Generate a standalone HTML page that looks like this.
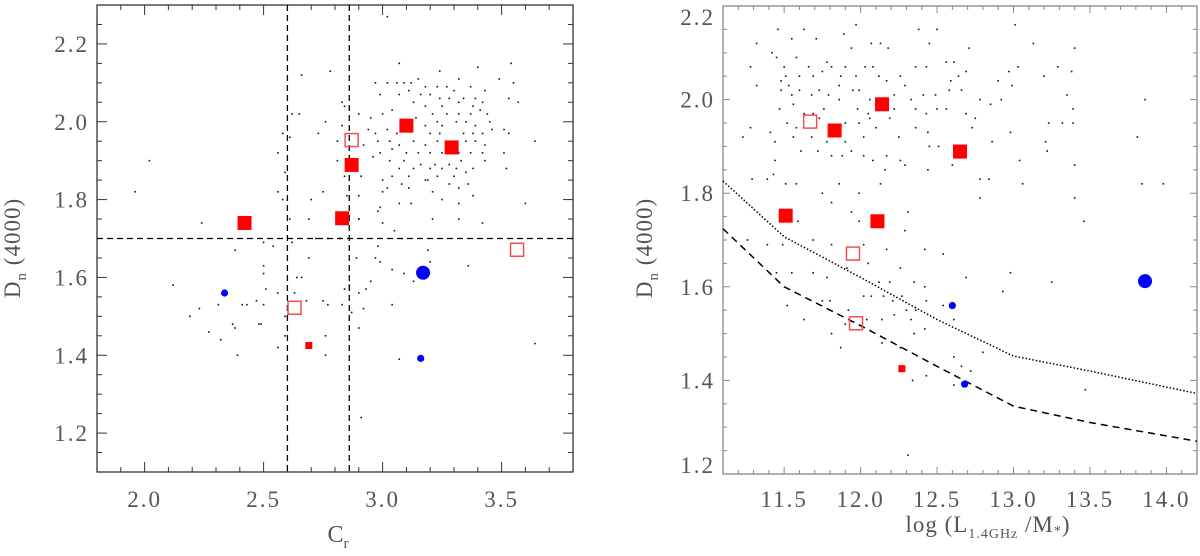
<!DOCTYPE html>
<html><head><meta charset="utf-8"><style>
html,body{margin:0;padding:0;background:#fff;}
svg text{font-family:"Liberation Serif",serif;fill:#555;}
</style></head><body>
<svg id="chart" width="1200" height="551" viewBox="0 0 1200 551" xmlns="http://www.w3.org/2000/svg">
<g id="left"></g>
<g id="right"></g>
</svg>
<script>
// ---- shared galaxy sample (Dn4000 values) ----
const bigFilledY=[1.99,1.934,1.889,1.752,1.74];
const smallFilledY=[1.425];
const openY=[1.953,1.522,1.671];
const bigBlueY=[1.612];
const smallBlueY=[1.56,1.392];
// left panel (C_r)
const bigFilledCr=[3.10,3.29,2.87,2.83,2.42];
const smallFilledCr=[2.69];
const openCr=[2.87,2.63,3.565];
const bigBlueCr=[3.17];
const smallBlueCr=[2.336,3.16];
// right panel (log L/M)
const bigFilledL=[12.14,11.83,12.65,11.51,12.11];
const smallFilledL=[12.27];
const openL=[11.67,11.97,11.95];
const bigBlueL=[13.86];
const smallBlueL=[12.60,12.68];
// threshold lines
const cutCr=[2.60,2.86];
const cutDn=[1.70];
const curveX=[11.1,11.5,12.0,12.5,13.0,13.5,14.2];
const dottedY=[1.826,1.707,1.62,1.53,1.452,1.42,1.372];
const dashedY=[1.724,1.60,1.517,1.43,1.345,1.31,1.27];
// tick labels
const leftXTicks=["2.0","2.5","3.0","3.5"];
const leftYTicks=["1.2","1.4","1.6","1.8","2.0","2.2"];
const rightXTicks=["11.5","12.0","12.5","13.0","13.5","14.0"];
const rightYTicks=["1.2","1.4","1.6","1.8","2.0","2.2"];
// background sample dots [x,y]
const leftDots=[[3.02,2.27],[3.07,2.15],[2.78,2.13],[3.54,2.15],[3.40,2.14],[3.24,2.13],[3.49,2.11],[3.55,2.10],[3.32,2.11],[2.97,2.10],[3.02,2.10],[3.06,2.10],[3.09,2.10],[3.12,2.10],[3.15,2.11],[3.18,2.09],[3.23,2.09],[3.27,2.09],[3.30,2.08],[3.37,2.09],[3.43,2.08],[2.99,2.07],[3.07,2.07],[3.11,2.08],[3.16,2.07],[3.20,2.07],[3.24,2.06],[3.28,2.06],[3.34,2.06],[3.39,2.06],[3.53,2.06],[3.57,2.05],[3.13,2.05],[3.18,2.04],[3.25,2.04],[3.32,2.05],[3.38,2.04],[3.42,2.05],[2.90,2.02],[2.95,2.01],[3.00,2.02],[3.04,2.03],[3.21,2.02],[3.27,2.02],[3.32,2.02],[3.37,2.02],[3.41,2.03],[3.44,2.02],[3.14,2.01],[3.18,1.99],[3.23,2.00],[3.25,1.99],[3.31,2.00],[3.35,2.00],[3.39,1.99],[3.45,2.00],[2.94,1.98],[2.97,1.97],[3.02,1.98],[3.06,1.97],[3.20,1.97],[3.24,1.97],[3.34,1.97],[3.38,1.97],[3.42,1.97],[3.46,1.98],[3.51,1.98],[3.53,1.97],[2.98,1.95],[3.03,1.95],[3.07,1.94],[3.13,1.95],[3.18,1.94],[3.23,1.95],[3.35,1.95],[3.39,1.95],[3.43,1.94],[3.64,1.95],[2.92,1.94],[2.99,1.92],[3.04,1.93],[3.10,1.92],[3.15,1.92],[3.20,1.92],[3.25,1.92],[3.32,1.92],[3.37,1.92],[3.42,1.92],[3.51,1.92],[2.96,1.91],[3.03,1.90],[3.09,1.90],[3.16,1.89],[3.22,1.89],[3.28,1.89],[3.33,1.90],[3.43,1.90],[3.07,1.88],[3.13,1.88],[3.20,1.88],[3.25,1.88],[3.31,1.88],[3.38,1.88],[3.52,1.88],[2.91,1.86],[3.04,1.86],[3.11,1.86],[3.18,1.85],[3.23,1.86],[3.30,1.86],[3.35,1.87],[3.00,1.85],[3.08,1.84],[3.19,1.85],[3.28,1.84],[3.36,1.84],[3.02,1.83],[3.11,1.83],[3.32,1.83],[3.21,1.82],[3.38,1.81],[3.00,1.82],[3.07,1.79],[3.12,1.79],[3.25,1.80],[3.32,1.79],[3.60,1.79],[2.98,1.77],[2.99,1.78],[3.21,1.75],[3.32,1.75],[3.42,1.74],[3.00,1.74],[2.90,1.75],[3.05,1.72],[3.08,1.70],[3.19,1.67],[2.98,1.68],[2.97,1.65],[2.99,1.64],[3.04,1.62],[3.09,1.61],[3.13,1.59],[3.20,1.64],[3.36,1.63],[2.95,1.59],[2.93,1.57],[3.04,1.53],[3.07,1.39],[2.91,1.24],[3.64,1.43],[2.02,1.90],[1.96,1.82],[2.24,1.74],[2.12,1.58],[2.19,1.50],[2.23,1.52],[2.27,1.46],[2.32,1.44],[2.31,1.53],[2.37,1.48],[2.38,1.47],[2.39,1.40],[2.41,1.53],[2.43,1.53],[2.47,1.54],[2.50,1.53],[2.48,1.48],[2.49,1.48],[2.50,1.63],[2.50,1.61],[2.51,1.57],[2.56,1.56],[2.56,1.42],[2.59,1.45],[2.59,1.50],[2.63,1.56],[2.64,1.60],[2.66,1.60],[2.68,1.54],[2.69,1.65],[2.76,1.45],[2.76,1.40],[2.75,1.54],[2.77,1.53],[2.83,1.53],[2.84,1.57],[2.86,1.58],[2.87,1.51],[2.90,1.47],[2.92,1.52],[2.90,1.56],[2.89,1.65],[2.62,1.69],[2.50,1.69],[2.54,1.68],[2.38,1.67],[2.61,1.75],[2.70,1.80],[2.75,1.82],[2.69,1.75],[2.72,1.70],[2.77,1.70],[2.85,1.74],[2.82,1.70],[2.90,1.75],[2.85,1.81],[2.90,1.81],[2.58,1.80],[2.56,1.82],[2.56,1.92],[2.59,1.87],[2.58,1.97],[2.61,1.96],[2.62,2.02],[2.65,2.02],[2.66,2.12],[2.76,2.00],[2.73,1.97],[2.81,1.95],[2.83,2.05],[2.84,2.04],[2.81,1.90],[2.84,1.86],[2.83,1.99]];
const rightDots=[[11.46,2.15],[11.63,2.15],[11.71,2.13],[11.32,2.12],[11.55,2.13],[11.97,2.16],[11.89,2.14],[11.94,2.11],[12.07,2.12],[12.13,2.12],[12.18,2.11],[12.38,2.15],[12.50,2.15],[12.45,2.12],[12.71,2.11],[13.01,2.16],[13.13,2.12],[13.40,2.11],[11.28,2.07],[11.42,2.10],[11.45,2.09],[11.58,2.09],[11.50,2.07],[11.51,2.05],[11.48,2.04],[11.53,2.03],[11.60,2.05],[11.66,2.07],[11.69,2.05],[11.75,2.06],[11.78,2.08],[11.81,2.07],[11.87,2.05],[11.90,2.07],[11.97,2.05],[12.03,2.07],[12.08,2.07],[12.12,2.05],[12.17,2.04],[12.26,2.05],[12.29,2.03],[12.36,2.07],[12.43,2.07],[12.56,2.08],[12.61,2.08],[12.69,2.06],[12.59,2.04],[12.64,2.05],[12.90,2.04],[12.97,2.06],[13.03,2.07],[13.20,2.05],[13.29,2.07],[13.38,2.06],[11.32,2.03],[11.48,2.02],[11.55,2.01],[11.60,2.02],[11.68,2.01],[11.73,2.02],[11.79,2.01],[11.86,2.03],[11.95,2.02],[11.99,2.02],[12.06,2.00],[12.22,2.01],[12.33,2.00],[12.41,2.01],[12.49,2.01],[12.58,2.02],[12.66,2.02],[12.78,2.00],[12.92,2.00],[12.99,2.03],[13.35,2.01],[13.86,2.00],[11.47,1.98],[11.56,1.99],[11.63,1.97],[11.69,1.97],[11.76,1.98],[11.86,2.00],[11.98,1.98],[12.05,1.97],[12.11,1.98],[12.22,1.98],[12.36,1.98],[12.43,1.97],[12.50,1.98],[12.56,1.98],[12.69,1.97],[12.75,1.96],[12.85,1.99],[13.39,1.98],[11.28,1.94],[11.41,1.93],[11.52,1.95],[11.58,1.94],[11.73,1.96],[11.90,1.95],[11.99,1.95],[12.06,1.96],[12.19,1.96],[12.36,1.94],[12.44,1.93],[12.73,1.94],[12.98,1.93],[13.23,1.95],[13.32,1.95],[13.39,1.95],[11.23,1.92],[11.44,1.91],[11.56,1.92],[11.68,1.92],[11.78,1.91],[11.90,1.91],[12.02,1.92],[12.10,1.94],[12.25,1.92],[12.45,1.90],[12.51,1.90],[12.86,1.91],[13.21,1.91],[13.22,1.89],[13.81,1.92],[11.61,1.89],[11.72,1.89],[11.81,1.88],[11.88,1.88],[11.94,1.89],[12.02,1.88],[12.08,1.87],[12.17,1.88],[12.26,1.87],[12.29,1.86],[12.44,1.85],[12.60,1.86],[13.04,1.87],[13.40,1.86],[11.44,1.87],[11.29,1.83],[11.39,1.83],[11.43,1.84],[11.51,1.82],[11.58,1.82],[11.75,1.80],[11.86,1.82],[11.99,1.80],[12.13,1.82],[12.16,1.85],[12.78,1.83],[12.84,1.83],[13.06,1.82],[13.84,1.82],[13.98,1.82],[12.78,1.79],[13.40,1.79],[11.81,1.78],[11.94,1.76],[12.31,1.76],[12.29,1.72],[11.99,1.74],[13.46,1.74],[11.26,1.70],[11.39,1.69],[11.49,1.69],[11.59,1.74],[11.69,1.70],[11.81,1.69],[12.02,1.69],[12.17,1.68],[12.26,1.64],[12.42,1.68],[12.54,1.67],[12.69,1.62],[12.98,1.63],[13.25,1.61],[12.93,1.59],[11.45,1.63],[11.55,1.63],[11.69,1.63],[11.78,1.62],[11.91,1.64],[12.05,1.65],[12.12,1.61],[12.19,1.61],[12.35,1.61],[12.42,1.60],[12.02,1.58],[12.07,1.58],[12.15,1.58],[12.21,1.57],[12.27,1.58],[12.30,1.55],[12.36,1.55],[12.43,1.57],[12.54,1.56],[12.61,1.53],[11.52,1.56],[11.63,1.53],[11.75,1.57],[11.80,1.57],[11.92,1.55],[11.81,1.50],[11.90,1.52],[12.04,1.53],[12.14,1.53],[12.22,1.54],[12.33,1.53],[12.42,1.51],[12.35,1.50],[12.43,1.41],[12.61,1.45],[12.66,1.43],[12.72,1.42],[12.80,1.46],[13.47,1.38],[11.87,1.47],[12.14,1.48],[12.26,1.47],[12.34,1.40],[12.61,1.39],[12.31,1.24]];

const NS="http://www.w3.org/2000/svg";
function mk(parent,tag,attrs){const e=document.createElementNS(NS,tag);for(const k in attrs)e.setAttribute(k,attrs[k]);parent.appendChild(e);return e;}
function scale(d0,d1,r0,r1){return v=>r0+(v-d0)/(d1-d0)*(r1-r0);}

function panel(g,cfg){
  const sx=scale(cfg.xd[0],cfg.xd[1],cfg.L,cfg.R), sy=scale(cfg.yd[0],cfg.yd[1],cfg.B,cfg.T);
  const col=cfg.axisColor;
  const tg=mk(g,'g',{});
  
  
  for(let i=0;;i++){const v=+(cfg.xMinorStart+i*cfg.xMinor).toFixed(3);if(v>cfg.xd[1]+1e-6)break;
    const X=sx(v);const maj=Math.abs(v/cfg.xMajor-Math.round(v/cfg.xMajor))<1e-4;const len=maj?cfg.majLen:cfg.minLen;
    mk(tg,'line',{x1:X,x2:X,y1:cfg.B,y2:cfg.B-len,stroke:col,'stroke-width':1});
    mk(tg,'line',{x1:X,x2:X,y1:cfg.T,y2:cfg.T+len,stroke:col,'stroke-width':1});}
  for(let i=0;;i++){const v=+(cfg.yMinorStart+i*cfg.yMinor).toFixed(3);if(v>cfg.yd[1]+1e-6)break;
    const Y=sy(v);const maj=Math.abs(v/cfg.yMajor-Math.round(v/cfg.yMajor))<1e-4;const len=maj?cfg.majLen:cfg.minLen;
    mk(tg,'line',{x1:cfg.L,x2:cfg.L+len,y1:Y,y2:Y,stroke:col,'stroke-width':1});
    mk(tg,'line',{x1:cfg.R,x2:cfg.R-len,y1:Y,y2:Y,stroke:col,'stroke-width':1});}
  const fr=mk(g,'rect',{x:cfg.L,y:cfg.T,width:cfg.R-cfg.L,height:cfg.B-cfg.T,fill:'none',stroke:col,'stroke-width':1.3});
  
  
  cfg.xTicks.forEach(t=>{const e=mk(g,'text',{x:sx(parseFloat(t)),y:507,'text-anchor':'middle','font-size':23,'letter-spacing':2});e.textContent=t;
    
    });
  cfg.yTicks.forEach(t=>{let Y=sy(parseFloat(t));Y=Math.max(cfg.T+11,Math.min(cfg.B-9,Y));const e=mk(g,'text',{x:cfg.L-8,y:Y+8,'text-anchor':'end','font-size':23,'letter-spacing':2});e.textContent=t;
    
    });
  const dg=mk(g,'g',{fill:'#111'});
  
  
  cfg.dots.forEach(p=>{const d=mk(dg,'rect',{x:sx(p[0])-0.8,y:sy(p[1])-0.8,width:1.6,height:1.6});
    
    });
  return {sx,sy};
}
function markers(g,sx,sy,xs){
  xs.bigFilled.forEach((v,i)=>{const e=mk(g,'rect',{x:sx(v)-7,y:sy(bigFilledY[i])-7,width:14,height:14,fill:'#ff0000'});
    
    });
  xs.smallFilled.forEach((v,i)=>{const e=mk(g,'rect',{x:sx(v)-3.5,y:sy(smallFilledY[i])-3.5,width:7,height:7,fill:'#ff0000'});
    
    });
  xs.open.forEach((v,i)=>{const e=mk(g,'rect',{x:sx(v)-6.5,y:sy(openY[i])-6.5,width:13,height:13,fill:'none',stroke:'#f05050','stroke-width':1.5});
    
    });
  xs.bigBlue.forEach((v,i)=>{const e=mk(g,'circle',{cx:sx(v),cy:sy(bigBlueY[i]),r:7,fill:'#0000ff'});
    
    });
  xs.smallBlue.forEach((v,i)=>{const e=mk(g,'circle',{cx:sx(v),cy:sy(smallBlueY[i]),r:3.6,fill:'#0000ff'});
    
    });
}

const gl=document.getElementById('left');
const L=panel(gl,{L:97,R:573,T:5,B:472,xd:[1.8,3.8],yd:[1.1,2.3],xMinorStart:1.8,xMinor:0.1,xMajor:0.5,yMinorStart:1.1,yMinor:0.05,yMajor:0.2,
  majLen:10,minLen:5,axisColor:'#333',xTicks:leftXTicks,yTicks:leftYTicks,dots:leftDots});
cutCr.forEach(c=>{const e=mk(gl,'line',{x1:L.sx(c),x2:L.sx(c),y1:5,y2:472,stroke:'#000','stroke-width':1.3,'stroke-dasharray':'6,4'});
  
  });
cutDn.forEach(c=>{const e=mk(gl,'line',{x1:97,x2:573,y1:L.sy(c),y2:L.sy(c),stroke:'#000','stroke-width':1.3,'stroke-dasharray':'6,4'});
  
  });
markers(gl,L.sx,L.sy,{bigFilled:bigFilledCr,smallFilled:smallFilledCr,open:openCr,bigBlue:bigBlueCr,smallBlue:smallBlueCr});

const gr=document.getElementById('right');
const R=panel(gr,{L:723,R:1197,T:6,B:474,xd:[11.1,14.2],yd:[1.2,2.2],xMinorStart:11.1,xMinor:0.1,xMajor:0.5,yMinorStart:1.2,yMinor:0.05,yMajor:0.2,
  majLen:7,minLen:4,axisColor:'#888',xTicks:rightXTicks,yTicks:rightYTicks,dots:rightDots});
function curve(ys,dash,w,name){const pts=curveX.map((x,i)=>R.sx(x)+','+R.sy(ys[i])).join(' ');
  const e=mk(gr,'polyline',{points:pts,fill:'none',stroke:'#000','stroke-width':w,'stroke-dasharray':dash});
  
  }
curve(dottedY,'1.5,2',1.5,'dotted-threshold-curve');
curve(dashedY,'7,5',1.5,'dashed-threshold-curve');
markers(gr,R.sx,R.sy,{bigFilled:bigFilledL,smallFilled:smallFilledL,open:openL,bigBlue:bigBlueL,smallBlue:smallBlueL});
</script>
<svg style="position:absolute;left:0;top:0" width="1200" height="551">
<text transform="translate(20,248) rotate(-90)" text-anchor="middle" font-size="23" letter-spacing="1" font-family="Liberation Serif, serif" fill="#555">D<tspan font-size="15" dy="6">n</tspan><tspan dy="-6"> (4000)</tspan></text>
<text x="338" y="542" text-anchor="middle" font-size="24" font-family="Liberation Serif, serif" fill="#555">C<tspan font-size="15" dy="6">r</tspan></text>
<text transform="translate(652,248) rotate(-90)" text-anchor="middle" font-size="23" letter-spacing="1" font-family="Liberation Serif, serif" fill="#555">D<tspan font-size="15" dy="6">n</tspan><tspan dy="-6"> (4000)</tspan></text>
<text x="988" y="532" text-anchor="middle" font-size="23" letter-spacing="1" font-family="Liberation Serif, serif" fill="#555">log (L<tspan font-size="14" dy="6">1.4GHz</tspan><tspan dy="-6"> /M</tspan><tspan font-size="14" dy="3">*</tspan><tspan dy="-3">)</tspan></text>
</svg>
</body></html>
